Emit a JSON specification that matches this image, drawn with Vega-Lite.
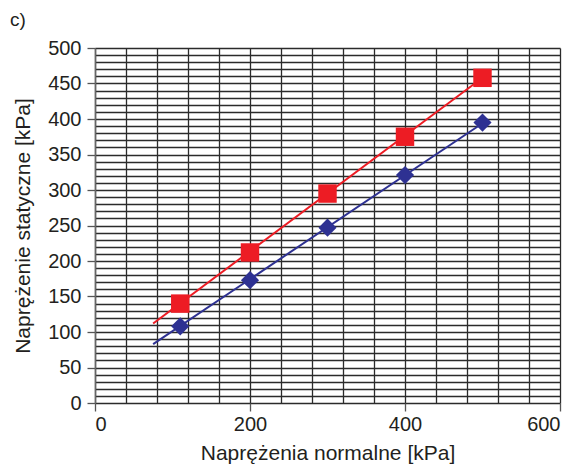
{
  "$schema": "https://vega.github.io/schema/vega-lite/v6.json",
  "width": 465,
  "height": 355,
  "autosize": {"type": "none"},
  "padding": {"left": 95, "top": 48, "right": 19, "bottom": 68},
  "background": "white",
  "title": {"text": "c)", "anchor": "start", "frame": "group", "dx": -85, "offset": 8, "fontSize": 19, "font": "Liberation Sans", "fontWeight": "normal", "color": "#231f20"},
  "config": {
    "view": {"stroke": null},
    "font": "Liberation Sans"
  },
  "datasets": {
    "points": [
      {"napr": 110, "tau": 140, "seria": "A"},
      {"napr": 200, "tau": 212, "seria": "A"},
      {"napr": 300, "tau": 295, "seria": "A"},
      {"napr": 400, "tau": 375, "seria": "A"},
      {"napr": 500, "tau": 458, "seria": "A"},
      {"napr": 110, "tau": 108, "seria": "B"},
      {"napr": 200, "tau": 173, "seria": "B"},
      {"napr": 300, "tau": 247, "seria": "B"},
      {"napr": 400, "tau": 321, "seria": "B"},
      {"napr": 500, "tau": 395, "seria": "B"}
    ],
    "fit": [
      {"napr": 75, "tau": 112, "seria": "A"},
      {"napr": 500, "tau": 458, "seria": "A"},
      {"napr": 75, "tau": 83, "seria": "B"},
      {"napr": 500, "tau": 394, "seria": "B"}
    ]
  },
  "encoding": {
    "x": {
      "field": "napr", "type": "quantitative",
      "scale": {"domain": [0, 600], "nice": false, "zero": false},
      "axis": {
        "title": "Naprężenia normalne [kPa]",
        "values": [0,40,80,120,160,200,240,280,320,360,400,440,480,520,560,600],
        "labelExpr": "datum.value % 200 === 0 ? datum.label : ''",
        "grid": true, "gridColor": "#2b2b2b", "gridWidth": 1.3, "gridOpacity": 1,
        "domain": false,
        "tickSize": 8, "tickColor": "#555555", "tickWidth": 1.3,
        "tickOpacity": {"condition": {"test": "datum.value % 200 === 0", "value": 1}, "value": 0},
        "labelFontSize": 20, "labelColor": "#231f20", "labelPadding": 3, "labelFont": "Liberation Sans",
        "titleFontSize": 21, "titleFontWeight": "normal", "titleColor": "#231f20", "titlePadding": 8, "titleFont": "Liberation Sans"
      }
    },
    "y": {
      "field": "tau", "type": "quantitative",
      "scale": {"domain": [0, 500], "nice": false, "zero": false},
      "axis": {
        "title": "Naprężenie statyczne [kPa]",
        "values": [0,10,20,30,40,50,60,70,80,90,100,110,120,130,140,150,160,170,180,190,200,210,220,230,240,250,260,270,280,290,300,310,320,330,340,350,360,370,380,390,400,410,420,430,440,450,460,470,480,490,500],
        "labelExpr": "datum.value % 50 === 0 ? datum.label : ''",
        "grid": true, "gridColor": "#2b2b2b", "gridWidth": 1.3, "gridOpacity": 1,
        "domain": true, "domainColor": "#666666", "domainWidth": 1.5,
        "tickSize": 8, "tickColor": "#555555", "tickWidth": 1.3,
        "tickOpacity": {"condition": {"test": "datum.value % 50 === 0", "value": 1}, "value": 0},
        "labelFontSize": 20, "labelColor": "#231f20", "labelPadding": 6, "labelFont": "Liberation Sans",
        "titleFontSize": 21, "titleFontWeight": "normal", "titleColor": "#231f20", "titlePadding": 14, "titleFont": "Liberation Sans"
      }
    },
    "color": {
      "field": "seria", "type": "nominal",
      "scale": {"domain": ["A", "B"], "range": ["#ed1c24", "#2e3192"]},
      "legend": null
    }
  },
  "layer": [
    {
      "data": {"name": "fit"},
      "mark": {"type": "line", "strokeWidth": 2},
      "encoding": {"detail": {"field": "seria"}}
    },
    {
      "data": {"name": "points"},
      "mark": {"type": "point", "filled": true, "opacity": 1},
      "encoding": {
        "shape": {"field": "seria", "type": "nominal", "scale": {"domain": ["A", "B"], "range": ["square", "diamond"]}, "legend": null},
        "size": {"field": "seria", "type": "nominal", "scale": {"domain": ["A", "B"], "range": [340, 330]}, "legend": null}
      }
    }
  ]
}
